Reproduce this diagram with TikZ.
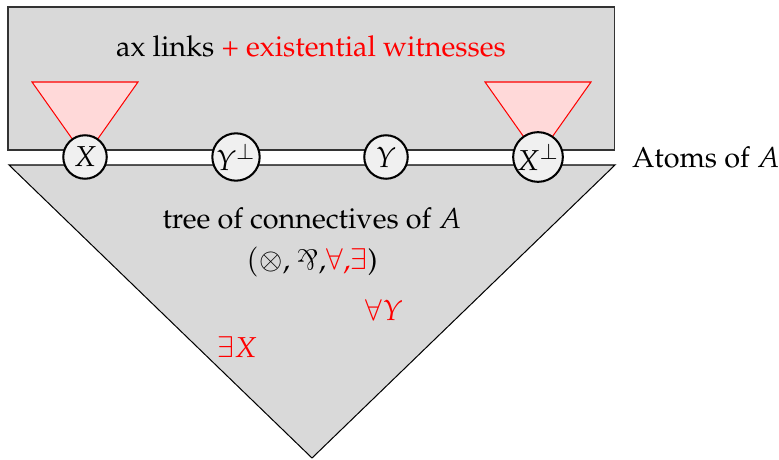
\documentclass[tikz,border=0pt]{standalone}
\usepackage[T1]{fontenc}
\usepackage{amsmath,amssymb}
\usepackage{mathpazo}
\usepackage{graphicx}
\usepackage{xcolor}
\usetikzlibrary{positioning,calc}

\newcommand{\parrsym}{\mathbin{\rotatebox[origin=c]{180}{\fontfamily{lmr}\selectfont\&}}}

\begin{document}
\begin{tikzpicture}[x=0.0138cm,y=-0.0138cm,font=\fontsize{11.3}{13.6}\selectfont,
  atom/.style={circle,draw,thick,fill=black!6,inner sep=0pt,minimum size=0.6cm},
  witness/.style={draw=red,fill=red!15}]
  \useasboundingbox (0,0) rectangle (779,459);
  % proof net part and formula tree
  \filldraw[fill=black!15,draw=black!80] (8,7) rectangle (614,150);
  \filldraw[fill=black!15,draw=black] (9,165) -- (615,165) -- (312,458) -- cycle;
  \coordinate (pX)  at (85,157);
  \coordinate (pYp) at (236,157);
  \coordinate (pY)  at (386,157);
  \coordinate (pXp) at (538,157);
  \foreach \p in {pX,pXp}
    \filldraw[witness] ($(\p)+(-53,-75)$) -- ($(\p)+(53,-75)$) -- (\p) -- cycle;
  \node[atom] (X)  at (pX)  {$X$};
  \node[atom] (Yp) at (pYp) {$Y^{\perp}$};
  \node[atom] (Y)  at (pY)  {$Y$};
  \node[atom] (Xp) at (pXp) {$X^{\perp}$};
  \node[anchor=west] (atoms) at (623,157) {Atoms of $A$};
  \node (links) at (311,46) {ax links \textcolor{red}{+ existential witnesses}};
  \node (tree) at (312,218) {tree of connectives of $A$};
  \node[below=0pt of tree] (conn) {$(\otimes$, $\parrsym$,\textcolor{red}{$\forall$,$\exists$})};
  \node[red] (fY) at (384,310) {$\forall Y$};
  \node[red] (eX) at (237,347) {$\exists X$};
\end{tikzpicture}
\end{document}
